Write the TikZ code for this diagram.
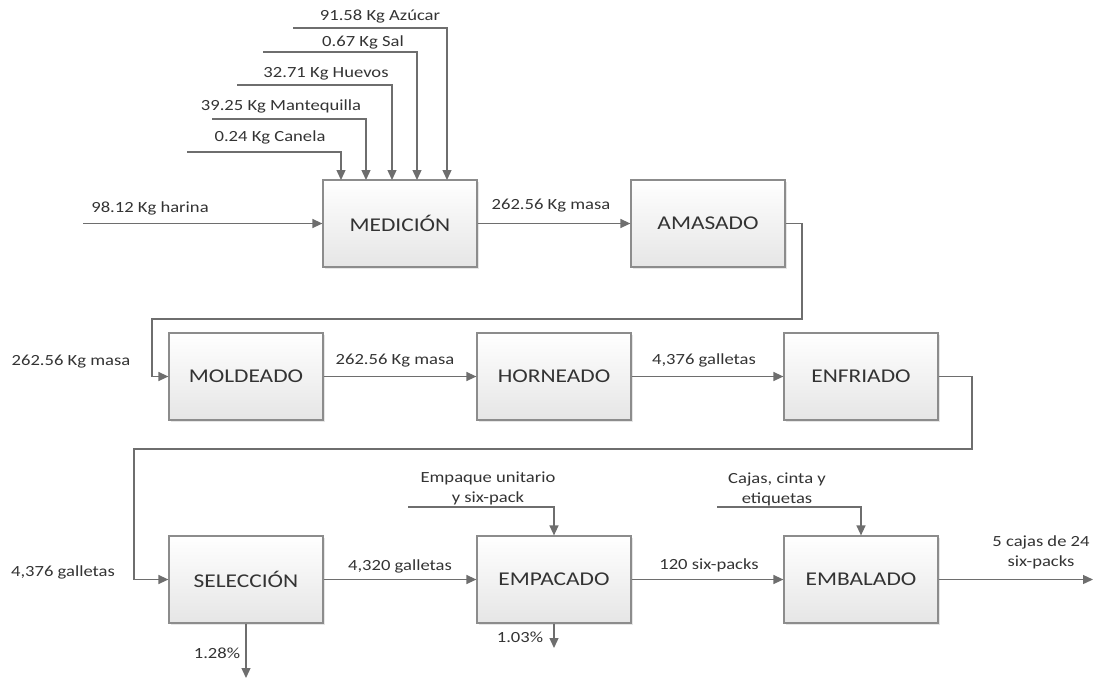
\documentclass[tikz,border=0pt]{standalone}
\usepackage{fontspec}
\setmainfont{Carlito}[FakeStretch=1.2]
\usetikzlibrary{arrows.meta,shadows}
\definecolor{linegray}{HTML}{6E6E6E}
\definecolor{boxedge}{HTML}{8C8C8C}
\definecolor{inkgray}{HTML}{333333}
\begin{document}
\begin{tikzpicture}[x=1pt,y=-1pt,
  process/.style={draw=boxedge, line width=1.2pt, minimum width=154pt, minimum height=87pt,
    inner sep=0pt, top color=white, bottom color=black!10, text=inkgray,
    font=\fontsize{19.5}{22}\selectfont,
    drop shadow={shadow xshift=2pt, shadow yshift=-2pt, opacity=0.2}},
  flow/.style={draw=linegray, line width=1.3pt, -{Triangle[length=10pt,width=9pt]}},
  lbl/.style={font=\fontsize{15.5}{20}\selectfont, text=inkgray, inner sep=0pt, align=center}]
\useasboundingbox (0,0) rectangle (1098,681);

% process boxes
\node[process] (med) at (400,223.5) {MEDICIÓN};
\node[process] (ama) at (708,223.5) {AMASADO};
\node[process] (mol) at (246,376.5) {MOLDEADO};
\node[process] (hor) at (554,376.5) {HORNEADO};
\node[process] (enf) at (861,376.5) {ENFRIADO};
\node[process] (sel) at (246,579.5) {SELECCIÓN};
\node[process] (emp) at (554,579.5) {EMPACADO};
\node[process] (emb) at (861,579.5) {EMBALADO};

% raw material inputs to MEDICIÓN
\coordinate (har) at (83,223.5);
\coordinate (can) at (187,152);
\coordinate (man) at (212,119);
\coordinate (hue) at (237,85);
\coordinate (sal) at (263,52);
\coordinate (azu) at (293,28);
\coordinate (canT) at (341,180);
\coordinate (manT) at (366,180);
\coordinate (hueT) at (392,180);
\coordinate (salT) at (417,180);
\coordinate (azuT) at (447,180);
\draw[flow] (har) -- (med.west);
\draw[flow] (can) -| (canT);
\draw[flow] (man) -| (manT);
\draw[flow] (hue) -| (hueT);
\draw[flow] (sal) -| (salT);
\draw[flow] (azu) -| (azuT);

\node[lbl] (tHar) at (150,208) {98.12 Kg harina};
\node[lbl] (tCan) at (270,137) {0.24 Kg Canela};
\node[lbl] (tMan) at (281,106) {39.25 Kg Mantequilla};
\node[lbl] (tHue) at (326,74) {32.71 Kg Huevos};
\node[lbl] (tSal) at (363,42) {0.67 Kg Sal};
\node[lbl] (tAzu) at (380,17) {91.58 Kg Azúcar};

% main flow
\draw[flow] (med) -- (ama);
\node[lbl] (t1) at (551,206) {262.56 Kg masa};

\coordinate (r1) at (802,319);
\coordinate (l1) at (152,319);
\draw[flow] (ama.east) -| (r1) -- (l1) |- (mol.west);
\node[lbl] (t2) at (71,362) {262.56 Kg masa};

\draw[flow] (mol) -- (hor);
\node[lbl] (t3) at (395,361) {262.56 Kg masa};
\draw[flow] (hor) -- (enf);
\node[lbl] (t4) at (704,360) {4,376 galletas};

\coordinate (r2) at (972,449);
\coordinate (l2) at (134,449);
\draw[flow] (enf.east) -| (r2) -- (l2) |- (sel.west);
\node[lbl] (t5) at (63,572) {4,376 galletas};

\draw[flow] (sel) -- (emp);
\node[lbl] (t6) at (400,566) {4,320 galletas};
\draw[flow] (emp) -- (emb);
\node[lbl] (t7) at (709,565) {120 six-packs};

\coordinate (out) at (1093,579.5);
\draw[flow] (emb.east) -- (out);
\node[lbl] (t8) at (1041,552) {5 cajas de 24\\six-packs};

% packaging material inputs
\coordinate (pk) at (408,507);
\coordinate (cj) at (717,507);
\draw[flow] (pk) -| (emp.north);
\draw[flow] (cj) -| (emb.north);
\node[lbl] (t9) at (488,488) {Empaque unitario\\y six-pack};
\node[lbl] (t10) at (777,489) {Cajas, cinta y\\etiquetas};

% losses
\coordinate (ls) at (246,678);
\coordinate (le) at (554,648);
\draw[flow] (sel.south) -- (ls);
\draw[flow] (emp.south) -- (le);
\node[lbl] (t11) at (217,653) {1.28\%};
\node[lbl] (t12) at (520,637) {1.03\%};
\end{tikzpicture}
\end{document}
